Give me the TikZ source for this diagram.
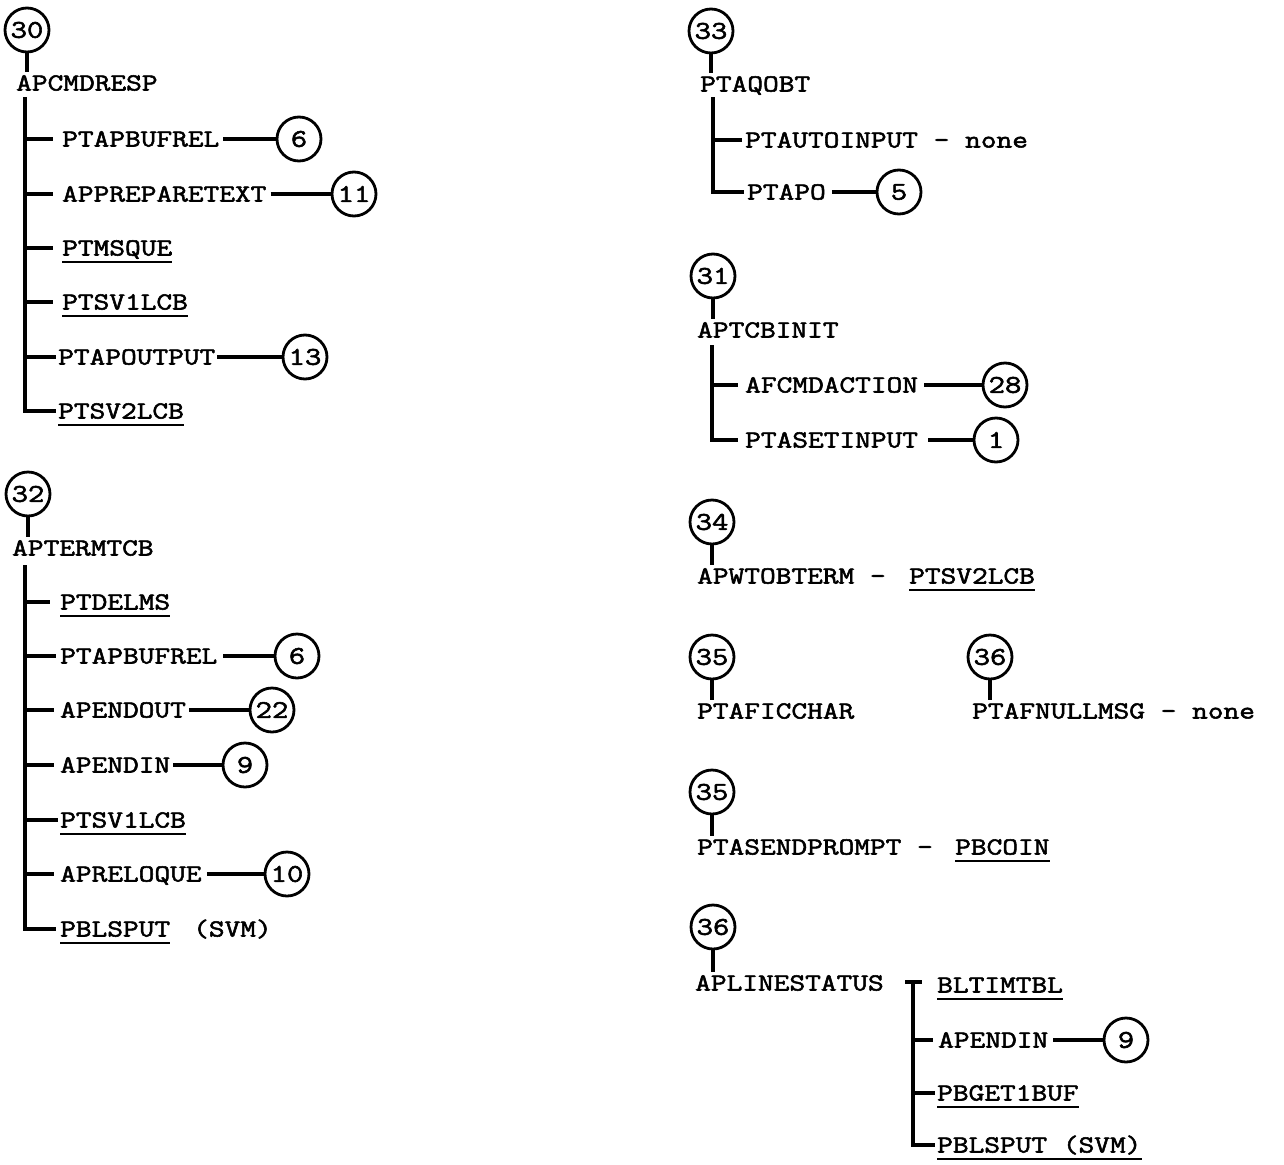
\documentclass[tikz,border=0pt]{standalone}
\usepackage{fontspec}
\newfontfamily\tw{Latin Modern Mono}[FakeStretch=1.245,FakeBold=2.2]
\begin{document}
\begin{tikzpicture}[x=1pt,y=-1pt,
  lbl/.style={anchor=west,inner sep=0pt,text height=15pt,text depth=0pt,font=\tw\fontsize{24.5}{28}\selectfont},
  circ/.style={circle,draw,line width=2.8pt,minimum size=44pt,inner sep=0pt,font=\tw\fontsize{25.5}{28}\selectfont},
  ln/.style={line width=3.4pt},
  ul/.style={line width=2.4pt}]
\useasboundingbox (0,0) rectangle (1284,1164);
\newcommand\myul[1]{\draw[ul] ([yshift=-6pt]#1.south west) -- ([yshift=-6pt]#1.south east);}

% ---------- 30 ----------
\node[circ] (c30) at (27,30) {30};
\node[lbl] (t30) at (16,83) {APCMDRESP};
\draw[ln] (c30.south) -- ([yshift=3pt]c30.south |- t30.north);
\coordinate (k30) at (25,97);
\node[lbl] (a301) at (62,139) {PTAPBUFREL};
\node[lbl] (a302) at (62,194) {APPREPARETEXT};
\node[lbl] (a303) at (62,248) {PTMSQUE};
\node[lbl] (a304) at (62,302) {PTSV1LCB};
\node[lbl] (a305) at (58,357) {PTAPOUTPUT};
\node[lbl] (a306) at (58,411) {PTSV2LCB};
\node[circ] (n301) at (299,139) {6};
\node[circ] (n302) at (354,194) {11};
\node[circ] (n305) at (305,357) {13};
\draw[ln] (k30 |- a301.west) -- ([xshift=-9pt]a301.west);
\draw[ln] (k30 |- a302.west) -- ([xshift=-9pt]a302.west);
\draw[ln] (k30 |- a303.west) -- ([xshift=-9pt]a303.west);
\draw[ln] (k30 |- a304.west) -- ([xshift=-9pt]a304.west);
\draw[ln] (k30 |- a305.west) -- ([xshift=-2pt]a305.west);
\draw[ln] (k30) |- ([xshift=-2pt]a306.west);
\draw[ln] ([xshift=4pt]a301.east) -- (n301.west);
\draw[ln] ([xshift=4pt]a302.east) -- (n302.west);
\draw[ln] ([xshift=2pt]a305.east) -- (n305.west);
\myul{a303}\myul{a304}\myul{a306}

% ---------- 32 ----------
\node[circ] (c32) at (28,494) {32};
\node[lbl] (t32) at (12,548) {APTERMTCB};
\draw[ln] (c32.south) -- ([yshift=3pt]c32.south |- t32.north);
\coordinate (k32) at (25,565);
\node[lbl] (a321) at (60,602) {PTDELMS};
\node[lbl] (a322) at (60,656) {PTAPBUFREL};
\node[lbl] (a323) at (60,710) {APENDOUT};
\node[lbl] (a324) at (60,765) {APENDIN};
\node[lbl] (a325) at (60,820) {PTSV1LCB};
\node[lbl] (a326) at (60,874) {APRELOQUE};
\node[lbl] (a327) at (60,929) {PBLSPUT};
\node[lbl] (a328) at (193,929) {(SVM)};
\node[circ] (n322) at (297,656) {6};
\node[circ] (n323) at (272,710) {22};
\node[circ] (n324) at (245,765) {9};
\node[circ] (n326) at (287,874) {10};
\draw[ln] (k32 |- a321.west) -- ([xshift=-10pt]a321.west);
\draw[ln] (k32 |- a322.west) -- ([xshift=-4pt]a322.west);
\draw[ln] (k32 |- a323.west) -- ([xshift=-6pt]a323.west);
\draw[ln] (k32 |- a324.west) -- ([xshift=-6pt]a324.west);
\draw[ln] (k32 |- a325.west) -- ([xshift=-2pt]a325.west);
\draw[ln] (k32 |- a326.west) -- ([xshift=-6pt]a326.west);
\draw[ln] (k32) |- ([xshift=-4pt]a327.west);
\draw[ln] ([xshift=6pt]a322.east) -- (n322.west);
\draw[ln] ([xshift=3pt]a323.east) -- (n323.west);
\draw[ln] ([xshift=3pt]a324.east) -- (n324.west);
\draw[ln] ([xshift=5pt]a326.east) -- (n326.west);
\myul{a321}\myul{a325}\myul{a327}

% ---------- 33 ----------
\node[circ] (c33) at (711,31) {33};
\node[lbl] (t33) at (700,84) {PTAQOBT};
\draw[ln] (c33.south) -- ([yshift=3pt]c33.south |- t33.north);
\coordinate (k33) at (713,97);
\node[lbl] (a331) at (745,140) {PTAUTOINPUT - none};
\node[lbl] (a332) at (747,192) {PTAPO};
\node[circ] (n332) at (899,192) {5};
\draw[ln] (k33 |- a331.west) -- ([xshift=-3pt]a331.west);
\draw[ln] (k33) |- ([xshift=-3pt]a332.west);
\draw[ln] ([xshift=6pt]a332.east) -- (n332.west);

% ---------- 31 ----------
\node[circ] (c31) at (713,276) {31};
\node[lbl] (t31) at (697,330) {APTCBINIT};
\draw[ln] (c31.south) -- ([yshift=3pt]c31.south |- t31.north);
\coordinate (k31) at (712,345);
\node[lbl] (a311) at (745,385) {AFCMDACTION};
\node[lbl] (a312) at (745,440) {PTASETINPUT};
\node[circ] (n311) at (1005,385) {28};
\node[circ] (n312) at (996,440) {1};
\draw[ln] (k31 |- a311.west) -- ([xshift=-7pt]a311.west);
\draw[ln] (k31) |- ([xshift=-7pt]a312.west);
\draw[ln] ([xshift=6pt]a311.east) -- (n311.west);
\draw[ln] ([xshift=10pt]a312.east) -- (n312.west);

% ---------- 34 ----------
\node[circ] (c34) at (712,522) {34};
\node[lbl] (t34) at (697,576) {APWTOBTERM -};
\node[lbl] (u34) at (909,576) {PTSV2LCB};
\draw[ln] (c34.south) -- ([yshift=3pt]c34.south |- t34.north);
\myul{u34}

% ---------- 35 / 36 ----------
\node[circ] (c35a) at (712,657) {35};
\node[lbl] (t35a) at (697,711) {PTAFICCHAR};
\draw[ln] (c35a.south) -- ([yshift=3pt]c35a.south |- t35a.north);
\node[circ] (c36a) at (990,657) {36};
\node[lbl] (t36a) at (972,711) {PTAFNULLMSG - none};
\draw[ln] (c36a.south) -- ([yshift=3pt]c36a.south |- t36a.north);

\node[circ] (c35b) at (712,792) {35};
\node[lbl] (t35b) at (697,847) {PTASENDPROMPT -};
\node[lbl] (u35b) at (955,847) {PBCOIN};
\draw[ln] (c35b.south) -- ([yshift=3pt]c35b.south |- t35b.north);
\myul{u35b}

% ---------- 36 ----------
\node[circ] (c36b) at (713,927) {36};
\node[lbl] (t36b) at (695,983) {APLINESTATUS};
\draw[ln] (c36b.south) -- ([yshift=3pt]c36b.south |- t36b.north);
\coordinate (k36) at (913,982);
\node[lbl] (a361) at (937,985) {BLTIMTBL};
\node[lbl] (a362) at (938,1040) {APENDIN};
\node[lbl] (a363) at (937,1093) {PBGET1BUF};
\node[lbl] (a364) at (937,1145) {PBLSPUT (SVM)};
\node[circ] (n362) at (1126,1040) {9};
\draw[ln] ([xshift=-8pt]k36) -- ([xshift=9pt]k36);
\draw[ln] (k36 |- a362.west) -- ([xshift=-5pt]a362.west);
\draw[ln] (k36 |- a363.west) -- ([xshift=-2pt]a363.west);
\draw[ln] (k36) |- ([xshift=-2pt]a364.west);
\draw[ln] ([xshift=5pt]a362.east) -- (n362.west);
\myul{a361}\myul{a363}\myul{a364}
\end{tikzpicture}
\end{document}
